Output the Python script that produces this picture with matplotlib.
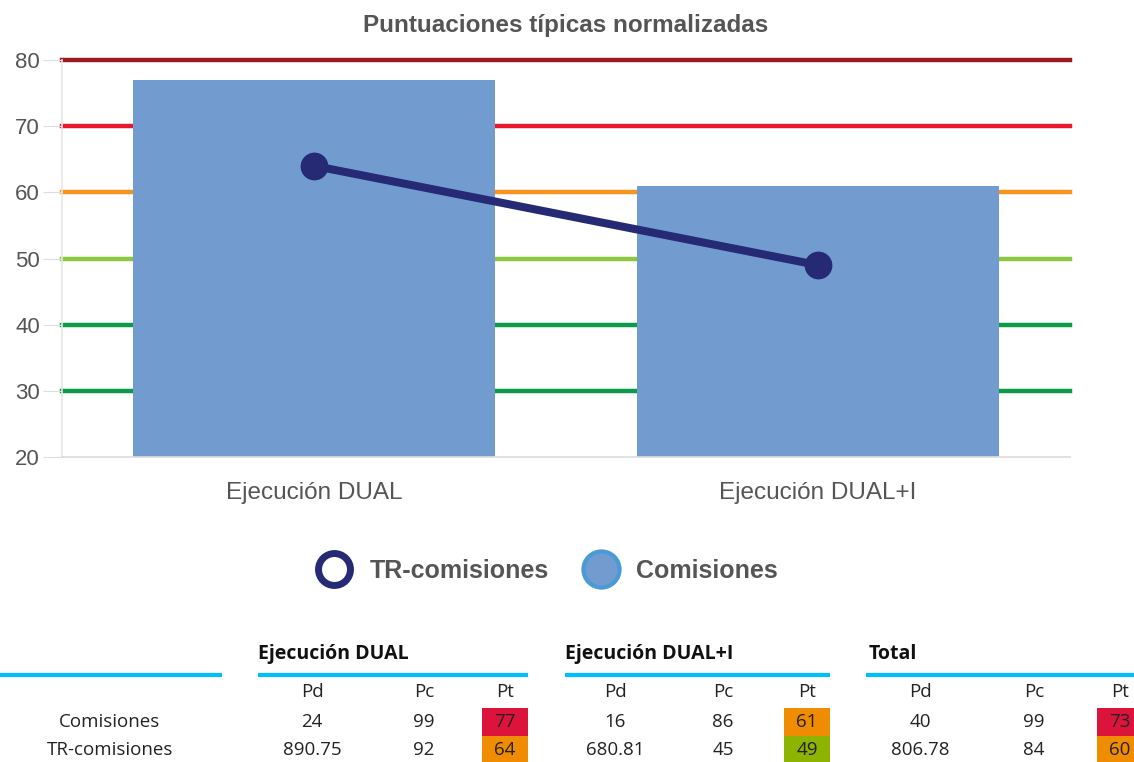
import matplotlib
matplotlib.use("Agg")
import matplotlib.pyplot as plt
from matplotlib.lines import Line2D

# ---------------- data ----------------
categories = ["Ejecución DUAL", "Ejecución DUAL+I"]
comisiones = [77, 61]
tr_comisiones = [64, 49]
band_levels = [80, 70, 60, 50, 40, 30]
band_colors = ["#9b1b1f", "#e8192c", "#f7941d", "#8dc63f", "#0a9a48", "#0a9a48"]
yticks = [20, 30, 40, 50, 60, 70, 80]

table_groups = ["Ejecución DUAL", "Ejecución DUAL+I", "Total"]
table_cols = ["Pd", "Pc", "Pt"]
table_rows = ["Comisiones", "TR-comisiones"]
pd_vals = [["24", "890.75"], ["16", "680.81"], ["40", "806.78"]]
pc_vals = [["99", "92"], ["86", "45"], ["99", "84"]]
pt_vals = [["77", "64"], ["61", "49"], ["73", "60"]]
pt_colors = [["#dc143c", "#ef8c00"], ["#ef8c00", "#8cb400"], ["#dc143c", "#ef8c00"]]

W, H = 1134, 762
fig = plt.figure(figsize=(W / 100, H / 100), dpi=100)
fig.patch.set_facecolor("white")
cfont = "Liberation Sans"

ax = fig.add_axes([62 / W, (H - 457) / H, (1070 - 62) / W, (457 - 60) / H])
x = list(range(len(categories)))
for lvl, c in zip(band_levels, band_colors):
    ax.axhline(lvl, color=c, lw=3.2, zorder=1, clip_on=False)
ax.bar(x, comisiones, width=0.72, color="#729cd0", zorder=2)
ax.plot(x, tr_comisiones, color="#262a74", lw=5.8, marker="o", ms=19, zorder=3)
ax.set_xlim(-0.5, 1.5)
ax.set_ylim(20, 80)
ax.set_yticks(yticks)
ax.set_xticks(x)
ax.set_xticklabels(categories, fontsize=17.5, color="#555555", family=cfont)
ax.tick_params(axis="x", length=0, pad=18)
ax.tick_params(axis="y", length=14, color="#dddddd", labelsize=16, labelcolor="#555555", pad=2)
for lab in ax.get_yticklabels():
    lab.set_family(cfont)
for s in ["top", "right"]:
    ax.spines[s].set_visible(False)
ax.spines["left"].set_color("#e6e6e6")
ax.spines["bottom"].set_color("#dddddd")
ax.spines["left"].set_linewidth(1.2)
ax.spines["bottom"].set_linewidth(1.2)
ax.set_title("Puntuaciones típicas normalizadas", fontsize=17.5, fontweight="bold",
             color="#555555", pad=20, family=cfont)

# legend
handles = [
    Line2D([], [], ls="none", marker="o", ms=23, mfc="white", mec="#262a74", mew=5),
    Line2D([], [], ls="none", marker="o", ms=26, mfc="#729cd0", mec="#4a9ad8", mew=3),
]
leg = fig.legend(handles, ["TR-comisiones", "Comisiones"], loc="center",
                 bbox_to_anchor=(546 / W, 1 - 571 / H), ncol=2, frameon=False,
                 handletextpad=0.6, columnspacing=1.3, handlelength=1.6,
                 prop={"weight": "bold", "size": 18, "family": cfont})
for t in leg.get_texts():
    t.set_color("#555555")

# table
tax = fig.add_axes([0, 0, 1, 1])
tax.set_xlim(0, W)
tax.set_ylim(H, 0)
tax.axis("off")
tfont = "Open Sans"
fs = 13.5
line_segs = [(0, 222), (258, 528), (565, 830), (866, 1134)]
for a, b in line_segs:
    tax.plot([a, b], [675, 675], color="#00bfff", lw=3, solid_capstyle="butt")
group_x = [258, 565, 869]
col_x = [[312, 424, 505], [615, 723, 807], [920, 1034, 1120]]
row_y = [722, 750]
for g, gname in enumerate(table_groups):
    tax.text(group_x[g], 654, gname, fontsize=14, fontweight="bold", color="#111111",
             va="center", ha="left", family=tfont)
    for c, cname in enumerate(table_cols):
        tax.text(col_x[g][c], 692, cname, fontsize=fs, color="#222222",
                 va="center", ha="center", family=tfont)
    for r in range(len(table_rows)):
        tax.text(col_x[g][0], row_y[r], pd_vals[g][r], fontsize=fs, color="#222222",
                 va="center", ha="center", family=tfont)
        tax.text(col_x[g][1], row_y[r], pc_vals[g][r], fontsize=fs, color="#222222",
                 va="center", ha="center", family=tfont)
        cx = col_x[g][2]
        tax.add_patch(plt.Rectangle((cx - 23, row_y[r] - 14), 46, 28,
                                    color=pt_colors[g][r], lw=0))
        tax.text(cx, row_y[r], pt_vals[g][r], fontsize=fs, color="#222222",
                 va="center", ha="center", family=tfont)
for r, rname in enumerate(table_rows):
    tax.text(110, row_y[r], rname, fontsize=fs, color="#222222",
             va="center", ha="center", family=tfont)

fig.savefig("out.png", dpi=100)
